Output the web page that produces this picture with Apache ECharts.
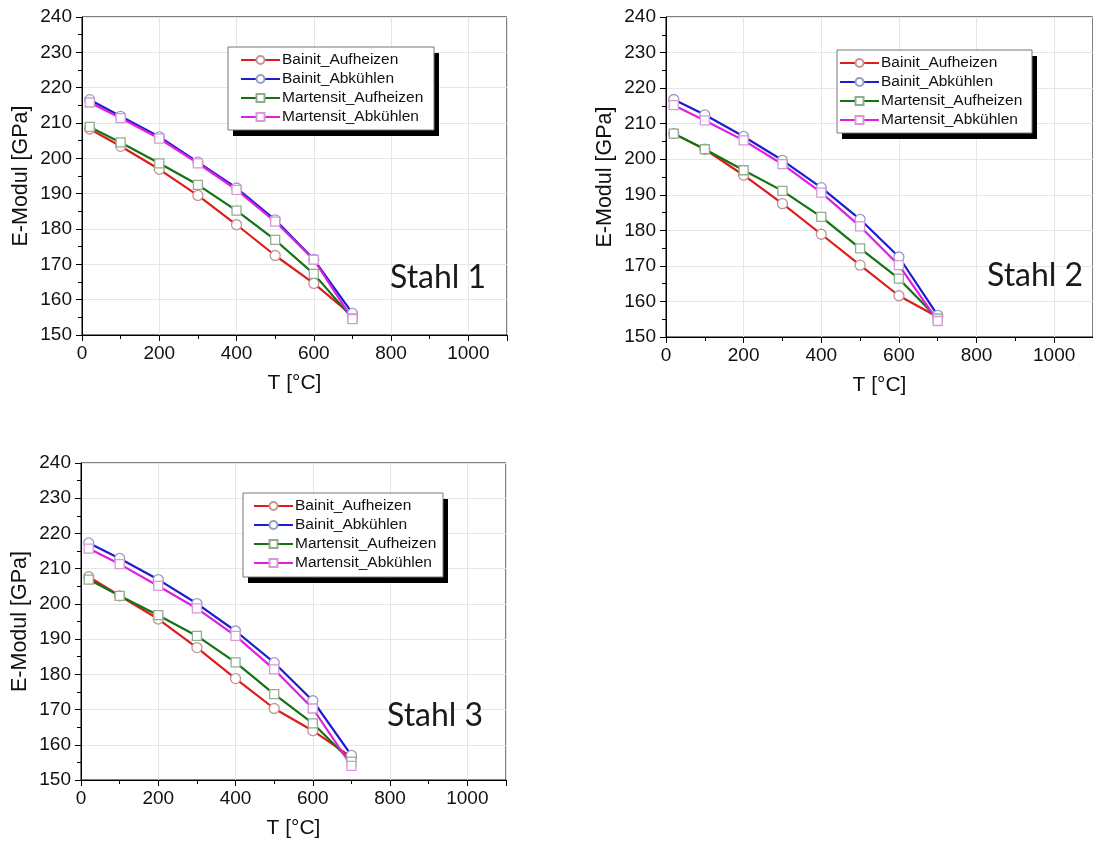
<!DOCTYPE html>
<html>
<head>
<meta charset="utf-8">
<script src="https://cdn.jsdelivr.net/npm/echarts@6/dist/echarts.min.js"></script>
<style>html,body{margin:0;padding:0;background:#fff}#c{width:1093px;height:846px}</style>
</head>
<body>
<div id="c"></div>
<script>
const temps = [20, 100, 200, 300, 400, 500, 600, 700];
const seriesNames = ['Bainit_Aufheizen', 'Bainit_Abkühlen', 'Martensit_Aufheizen', 'Martensit_Abkühlen'];
const panelLabels = ['Stahl 1', 'Stahl 2', 'Stahl 3'];
const xTicks = [0, 200, 400, 600, 800, 1000];
const yTicks = [150, 160, 170, 180, 190, 200, 210, 220, 230, 240];

// Stahl 1
const s1BainitAuf = [208.3, 203.4, 196.9, 189.5, 181.2, 172.5, 164.6, 155.5];
const s1BainitAb = [216.6, 211.9, 206.1, 198.9, 191.6, 182.6, 171.4, 156.1];
const s1MartAuf = [208.9, 204.5, 198.6, 192.5, 185.2, 176.9, 167.3, 154.7];
const s1MartAb = [215.8, 211.4, 205.6, 198.6, 191.1, 182.1, 171.3, 154.5];
// Stahl 2
const s2BainitAuf = [207.2, 202.8, 195.5, 187.5, 178.9, 170.2, 161.6, 155.6];
const s2BainitAb = [216.8, 212.5, 206.4, 199.7, 192.0, 183.1, 172.5, 156.1];
const s2MartAuf = [207.2, 202.8, 196.9, 191.1, 183.8, 174.9, 166.4, 155.2];
const s2MartAb = [215.2, 210.9, 205.3, 198.6, 190.6, 181.1, 170.2, 154.5];
// Stahl 3
const s3BainitAuf = [207.7, 202.3, 195.7, 187.6, 178.8, 170.3, 164.0, 156.5];
const s3BainitAb = [217.3, 212.9, 206.9, 200.1, 192.3, 183.3, 172.5, 157.0];
const s3MartAuf = [206.9, 202.3, 196.8, 190.9, 183.4, 174.4, 166.1, 155.2];
const s3MartAb = [215.7, 211.3, 205.1, 198.7, 190.9, 181.4, 170.3, 154.0];

const panelData = [
  [s1BainitAuf, s1BainitAb, s1MartAuf, s1MartAb],
  [s2BainitAuf, s2BainitAb, s2MartAuf, s2MartAb],
  [s3BainitAuf, s3BainitAb, s3MartAuf, s3MartAb]
];

const lineColors = ['#dd1c1c', '#1c1cd0', '#137313', '#e01ee0'];
const markerBorders = ['#c49494', '#9a9ac8', '#8fae8f', '#d69ad6'];
const markerShapes = ['circle', 'circle', 'rect', 'rect'];

const grids = [
  {left: 82, top: 17, width: 425, height: 318},
  {left: 666, top: 17, width: 434, height: 320},
  {left: 81, top: 463, width: 425, height: 317}
];
// legend items placement
const legendPos = [
  {left: 240, top: 52},
  {left: 839, top: 55},
  {left: 253, top: 498}
];
// legend frames [x, y, w, h]
const legendBoxes = [
  [228, 47, 206, 83],
  [837, 50, 195, 83],
  [243, 493, 200, 84]
];
const labelPos = [
  {left: 390, top: 262},
  {left: 987, top: 260},
  {left: 387, top: 700}
];

const font = '"Liberation Sans", Arial, sans-serif';

const graphics = [];
legendBoxes.forEach(b => {
  graphics.push({type: 'rect', z: 3, shape: {x: b[0] + 5, y: b[1] + 6, width: b[2], height: b[3]},
    style: {fill: '#000'}});
  graphics.push({type: 'rect', z: 3, shape: {x: b[0], y: b[1], width: b[2], height: b[3]},
    style: {fill: '#fff', stroke: '#777', lineWidth: 1}});
});

const option = {
  backgroundColor: '#fff',
  animation: false,
  grid: grids.map(g => Object.assign({show: true, borderColor: '#000', borderWidth: 1, backgroundColor: 'transparent'}, g)),
  graphic: {elements: graphics},
  title: panelLabels.map((t, i) => ({
    text: t, left: labelPos[i].left, top: labelPos[i].top, padding: 0,
    textStyle: {fontFamily: 'Lato, "Open Sans", sans-serif', fontWeight: 'normal', fontSize: 32, color: '#1a1a1a'}
  })),
  legend: legendPos.map(p => ({
    data: seriesNames, orient: 'vertical', left: p.left, top: p.top, padding: 0, z: 5,
    itemWidth: 39, itemHeight: 10, itemGap: 3,
    textStyle: {fontFamily: font, fontSize: 15.5, color: '#111', padding: [0, 0, 0, -3]},
    selectedMode: false
  })),
  xAxis: grids.map((g, i) => ({
    type: 'value', gridIndex: i, min: 0, max: 1100, interval: 200,
    name: 'T [°C]', nameLocation: 'middle', nameGap: 38,
    nameTextStyle: {fontFamily: font, fontSize: 21, color: '#111'},
    axisLine: {show: true, onZero: false, lineStyle: {color: '#000', width: 1}},
    axisTick: {show: true, inside: false, length: 6, lineStyle: {color: '#000'}},
    minorTick: {show: true, splitNumber: 2, length: 4, lineStyle: {color: '#000'}},
    axisLabel: {fontFamily: font, fontSize: 19, color: '#111', margin: 9, showMaxLabel: false,
      formatter: v => (xTicks.indexOf(v) >= 0 ? String(v) : '')},
    splitLine: {show: true, lineStyle: {color: '#e6e6e6', width: 1}}
  })),
  yAxis: grids.map((g, i) => ({
    type: 'value', gridIndex: i, min: 150, max: 240, interval: 10,
    name: 'E-Modul [GPa]', nameLocation: 'middle', nameGap: 50,
    nameTextStyle: {fontFamily: font, fontSize: 21.5, color: '#111'},
    axisLine: {show: true, lineStyle: {color: '#000', width: 1}},
    axisTick: {show: true, inside: false, length: 6, lineStyle: {color: '#000'}},
    minorTick: {show: true, splitNumber: 2, length: 4, lineStyle: {color: '#000'}},
    axisLabel: {fontFamily: font, fontSize: 19, color: '#111', margin: 10,
      formatter: v => (yTicks.indexOf(v) >= 0 ? String(v) : '')},
    splitLine: {show: true, lineStyle: {color: '#e6e6e6', width: 1}}
  })),
  series: []
};

panelData.forEach((arrs, p) => {
  arrs.forEach((arr, k) => {
    option.series.push({
      type: 'line', name: seriesNames[k], xAxisIndex: p, yAxisIndex: p,
      data: temps.map((t, i) => [t, arr[i]]),
      symbol: markerShapes[k], symbolSize: markerShapes[k] === 'rect' ? 9 : 10,
      showAllSymbol: true,
      lineStyle: {color: lineColors[k], width: 2.2},
      itemStyle: {color: '#fff', borderColor: markerBorders[k], borderWidth: 1.3},
      emphasis: {disabled: true}
    });
  });
});

const chart = echarts.init(document.getElementById('c'), null, {renderer: 'canvas'});
chart.setOption(option);
</script>
</body>
</html>
